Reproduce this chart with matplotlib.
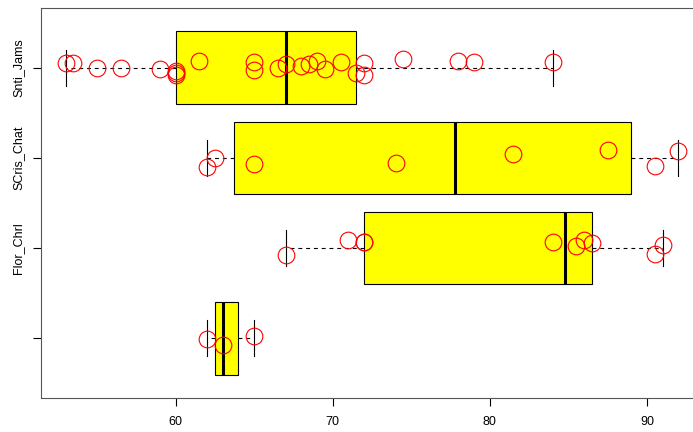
import matplotlib
matplotlib.use("Agg")
import matplotlib.pyplot as plt

plt.rcParams["font.family"] = ["Liberation Sans", "DejaVu Sans"]

# groups, bottom to top
labels = ["", "Flor_Chrl", "SCris_Chat", "Snti_Jams"]

# box statistics (Tukey hinges, as in R)
whislo = [62, 67, 62, 53]
q1 = [62.5, 72, 63.75, 60]
med = [63, 84.75, 77.75, 67]
q3 = [64, 86.5, 89, 71.5]
whishi = [65, 91, 92, 84]

# raw points and their vertical jitter
pts_0 = [62, 63, 65]
jit_0 = [-0.01, -0.07, 0.03]

pts_1 = [67, 71, 72, 72, 84, 85.5, 86, 86.5, 90.5, 91]
jit_1 = [-0.08, 0.09, 0.07, 0.065, 0.07, 0.02, 0.09, 0.06, -0.06, 0.04]

pts_2 = [62, 62.5, 65, 74, 81.5, 87.5, 90.5, 92]
jit_2 = [-0.1, 0.0, -0.07, -0.055, 0.04, 0.09, -0.09, 0.08]

pts_3 = [53, 53.5, 55, 56.5, 59, 60, 60, 60, 61.5, 65, 65, 66.5, 67,
         68, 68.5, 69, 69.5, 70.5, 71.5, 72, 72, 74.5, 78, 79, 84]
jit_3 = [0.05, 0.05, 0.0, -0.01, -0.02, -0.04, -0.06, -0.08, 0.07, 0.06,
         -0.03, 0.0, 0.04, 0.015, 0.04, 0.07, -0.02, 0.06, -0.06, 0.05,
         -0.085, 0.1, 0.07, 0.06, 0.06]

points = [pts_0, pts_1, pts_2, pts_3]
jitter = [jit_0, jit_1, jit_2, jit_3]

stats = []
for i in range(len(labels)):
    stats.append({
        "label": labels[i],
        "whislo": whislo[i],
        "q1": q1[i],
        "med": med[i],
        "q3": q3[i],
        "whishi": whishi[i],
        "fliers": [],
    })

fig = plt.figure(figsize=(6.93, 4.32), dpi=100)
ax = fig.add_axes([41 / 693, 34 / 432, 662 / 693, 390 / 432])

pos = [1, 2, 3, 4]
ax.bxp(
    stats,
    positions=pos,
    widths=0.8,
    vert=False,
    patch_artist=True,
    showfliers=False,
    boxprops=dict(facecolor="#ffff00", edgecolor="black", linewidth=0.8),
    medianprops=dict(color="black", linewidth=2.2),
    whiskerprops=dict(color="black", linewidth=0.8, linestyle=(0, (3.5, 3.5))),
    capprops=dict(color="black", linewidth=0.8),
    capwidths=0.4,
)

for i in range(len(points)):
    ys = [pos[i] + j for j in jitter[i]]
    ax.plot(points[i], ys, linestyle="none", marker="o", markersize=12,
            markerfacecolor="none", markeredgecolor="red",
            markeredgewidth=0.8, zorder=5)

ax.set_xlim(51.44, 93.56)
ax.set_ylim(0.34, 4.66)
ax.set_xticks([60, 70, 80, 90])
ax.set_yticks(pos)
ax.set_yticklabels(labels, rotation=90, va="center")
ax.tick_params(axis="both", direction="out", length=6, width=0.8,
               labelsize=9, colors="black")
ax.tick_params(axis="x", pad=7)
ax.tick_params(axis="y", pad=6)
for s in ax.spines.values():
    s.set_linewidth(0.8)
    s.set_color("#555555")
ax.spines["right"].set_visible(False)

fig.savefig("out.png", dpi=100)
